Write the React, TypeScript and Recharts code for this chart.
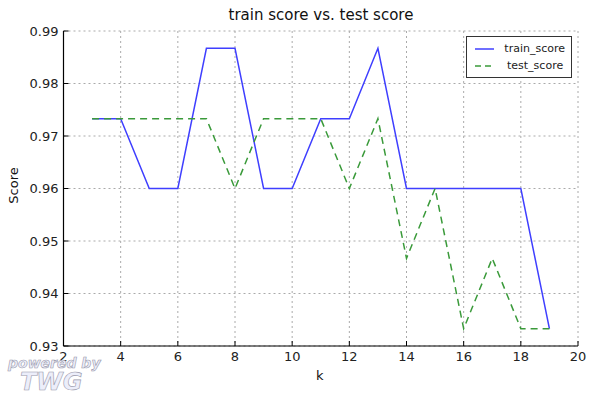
import React from "react";
import { LineChart, Line, XAxis, YAxis, CartesianGrid } from "recharts";

const kValues = [3, 4, 5, 6, 7, 8, 9, 10, 11, 12, 13, 14, 15, 16, 17, 18, 19];
const trainScore = [
  0.9733, 0.9733, 0.96, 0.96, 0.9867, 0.9867, 0.96, 0.96, 0.9733, 0.9733,
  0.9867, 0.96, 0.96, 0.96, 0.96, 0.96, 0.9333,
];
const testScore = [
  0.9733, 0.9733, 0.9733, 0.9733, 0.9733, 0.96, 0.9733, 0.9733, 0.9733, 0.96,
  0.9733, 0.9467, 0.96, 0.9333, 0.9467, 0.9333, 0.9333,
];
const xTicks = [2, 4, 6, 8, 10, 12, 14, 16, 18, 20];
const yTicks = [0.93, 0.94, 0.95, 0.96, 0.97, 0.98, 0.99];

const data = kValues.map((k, i) => ({
  k,
  train_score: trainScore[i],
  test_score: testScore[i],
}));

const FONT = "'DejaVu Sans', sans-serif";
const BLUE = "#3f3fff";
const GREEN = "#3a9a3a";

const tickStyle = { fontSize: 13, fill: "#222", fontFamily: FONT };

function LegendBox() {
  const items = [
    { name: "train_score", color: BLUE, dash: undefined },
    { name: "test_score", color: GREEN, dash: "6 4" },
  ];
  return (
    <div
      style={{
        position: "absolute",
        left: 466,
        top: 36,
        width: 92,
        border: "1px solid #333",
        background: "#fff",
        padding: "3px 6px",
        fontFamily: FONT,
        fontSize: 11,
        color: "#222",
      }}
    >
      {items.map((it) => (
        <div key={it.name} style={{ display: "flex", alignItems: "center", height: 17 }}>
          <svg width={24} height={10} style={{ marginRight: 10 }}>
            <line
              x1={2}
              y1={5}
              x2={22}
              y2={5}
              stroke={it.color}
              strokeWidth={1.5}
              strokeDasharray={it.dash}
            />
          </svg>
          <span>{it.name}</span>
        </div>
      ))}
    </div>
  );
}

export default function App() {
  return (
    <div
      style={{
        position: "absolute",
        left: 0,
        top: 0,
        width: 602,
        height: 400,
        background: "#fff",
        fontFamily: FONT,
      }}
    >
      <LineChart
        width={602}
        height={400}
        data={data}
        margin={{ top: 31, right: 24, bottom: 24, left: 13.5 }}
      >
        <CartesianGrid stroke="#aaa" strokeDasharray="2 3" />
        <XAxis
          dataKey="k"
          type="number"
          domain={[2, 20]}
          ticks={xTicks}
          allowDataOverflow
          height={30}
          tick={tickStyle}
          tickSize={-5}
          tickMargin={11}
          axisLine={{ stroke: "#000", strokeWidth: 1.2 }}
          tickLine={{ stroke: "#000" }}
        />
        <XAxis
          xAxisId="top"
          orientation="top"
          dataKey="k"
          type="number"
          domain={[2, 20]}
          ticks={xTicks}
          height={0}
          tick={false}
          tickSize={-5}
          axisLine={{ stroke: "#000", strokeWidth: 1.2 }}
          tickLine={{ stroke: "#000" }}
        />
        <YAxis
          type="number"
          domain={[0.93, 0.99]}
          ticks={yTicks}
          allowDataOverflow
          width={50}
          tick={tickStyle}
          tickSize={-5}
          tickMargin={10}
          tickFormatter={(v: number) => v.toFixed(2)}
          axisLine={{ stroke: "#000", strokeWidth: 1.2 }}
          tickLine={{ stroke: "#000" }}
        />
        <YAxis
          yAxisId="right"
          orientation="right"
          type="number"
          domain={[0.93, 0.99]}
          ticks={yTicks}
          width={0}
          tick={false}
          tickSize={-5}
          axisLine={{ stroke: "#000", strokeWidth: 1.2 }}
          tickLine={{ stroke: "#000" }}
        />
        <Line
          type="linear"
          dataKey="train_score"
          stroke={BLUE}
          strokeWidth={1.5}
          dot={false}
          isAnimationActive={false}
        />
        <Line
          type="linear"
          dataKey="test_score"
          stroke={GREEN}
          strokeWidth={1.5}
          strokeDasharray="7 5"
          dot={false}
          isAnimationActive={false}
        />
      </LineChart>
      <LegendBox />
      <div
        style={{
          position: "absolute",
          left: 0,
          width: 642,
          top: 6,
          textAlign: "center",
          fontSize: 15,
          color: "#111",
        }}
      >
        train score vs. test score
      </div>
      <div style={{ position: "absolute", left: 316, top: 368, fontSize: 13, color: "#111" }}>
        k
      </div>
      <div
        style={{
          position: "absolute",
          left: -12,
          top: 178,
          width: 50,
          textAlign: "center",
          fontSize: 13,
          color: "#111",
          transform: "rotate(-90deg)",
        }}
      >
        Score
      </div>
      <div
        style={{
          position: "absolute",
          left: 8,
          top: 356,
          fontStyle: "italic",
          fontWeight: "bold",
          color: "#eceefa",
          WebkitTextStroke: "0.6px #9a9aac",
          lineHeight: 1,
        }}
      >
        <div style={{ fontSize: 14 }}>powered by</div>
        <div style={{ fontSize: 24, marginLeft: 12 }}>TWG</div>
      </div>
    </div>
  );
}
